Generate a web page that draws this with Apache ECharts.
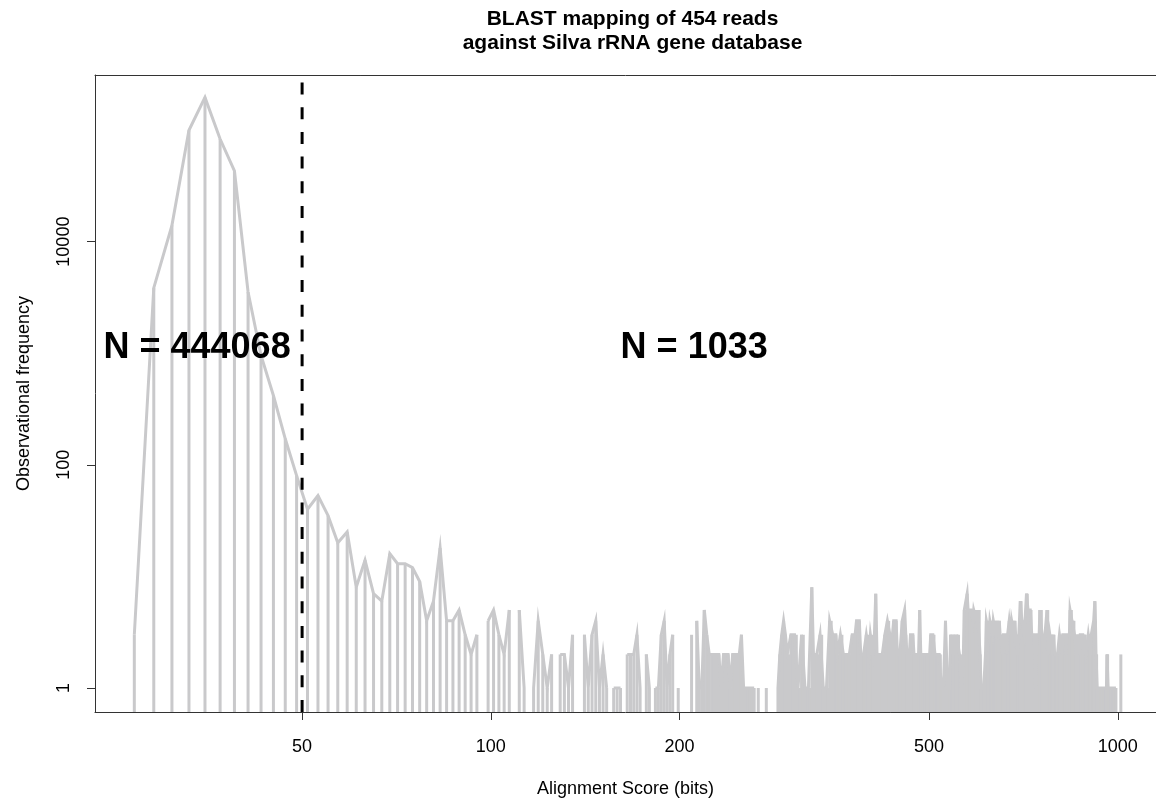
<!DOCTYPE html>
<html><head><meta charset="utf-8">
<script src="https://cdn.jsdelivr.net/npm/echarts@6/dist/echarts.min.js"></script>
<style>html,body{margin:0;padding:0;background:#fff}#chart{width:1156px;height:800px}</style>
</head><body><div id="chart"></div>
<script>
// Histogram bins (bin midpoints start at 27, width 2 bits)
const firstBinMid = 27;
const binWidth = 2;
// Counts per bin (0 = empty bin)
const counts27to49 = [3, 3850, 14000, 99500, 196000, 83000, 43000, 3540, 955, 418, 171, 80];
const counts51to99 = [40, 53, 35, 20, 25, 8, 14, 7, 6, 16, 13, 13, 12, 9, 4, 6, 18, 4, 4, 5, 3, 2, 3, 0, 4];
const counts101to199 = [5,3,2,5,0,5,1,0,1,4, 2,1,2,0,2,2,1,3,0,0, 3,1,3,4,1,2,1,0,1,1, 1,0,2,2,2,3,1,0,2,1, 0,1,1,3,4,1,2,3,0,1];
const counts201to299 = [0,0,0,0,3,0,4,1,1,5, 3,2,2,2,2,2,1,2,2,2, 1,2,2,2,2,3,1,1,1,1, 1,1,0,1,0,0,0,1,0,0, 0,0,0,1,2,3,4,3,2,2];
const counts301to399 = [3,3,3,3,1,1,3,3,1,1, 1,1,8,2,2,2,2,3,3,1, 1,1,1,4,4,3,3,3,2,2, 3,3,2,2,2,2,2,2,3,3, 3,4,4,4,2,2,2,2,3,3];
const counts401to499 = [2,3,3,2,3,7,2,2,2,2, 2,2,3,3,4,4,3,3,3,4, 4,4,2,2,2,2,4,4,5,3, 2,2,2,3,3,3,2,2,2,2, 2,5,2,2,2,2,2,2,2,2];
const counts501to599 = [2,3,3,3,3,2,2,2,2,2, 2,1,1,1,2,4,2,1,1,1, 3,3,2,3,3,2,3,3,3,2, 2,1,1,2,5,5,5,7,5,5, 5,5,5,4,5,5,5,4,5,5];
const counts601to699 = [5,2,1,1,1,1,1,2,4,4, 4,3,4,4,4,3,4,4,4,3, 4,4,3,4,3,3,3,2,3,3, 3,3,2,3,3,4,4,3,4,4, 4,3,4,3,3,3,2,3,3,6];
const counts701to799 = [6,4,4,4,3,4,4,7,7,5, 5,5,5,5,3,3,3,3,2,1, 1,3,3,3,3,5,5,5,3,3, 3,2,3,3,3,5,5,2,2,3, 3,3,3,2,3,3,2,2,2,2];
const counts801to899 = [2,2,2,3,3,3,3,2,3,3, 3,3,3,2,3,3,3,3,3,5, 5,5,4,4,4,4,3,3,3,2, 3,3,3,3,2,3,3,3,3,3, 2,3,3,3,2,2,2,2,3,3];
const counts901to999 = [3,3,2,3,3,3,3,4,4,6, 4,2,2,1,1,1,1,1,1,1, 1,1,1,1,1,1,1,1,1,1, 2,2,1,1,1,1,1,1,1,1, 1,1,1,1,1,1,1,0,0,0];
const counts1001to1011 = [0,0,0,0,0,2];

const cutoffScore = 50;
const xTickValues = [50, 100, 200, 500, 1000];
const yTickValues = [1, 100, 10000];
const annotationTexts = ['N = 444068', 'N = 1033'];
const annotationX = [34, 211];
const annotationY = [1120, 1120];
const titleText = 'BLAST mapping of 454 reads\nagainst Silva rRNA gene database';
const xAxisName = 'Alignment Score (bits)';
const yAxisName = 'Observational frequency';

const counts = [].concat(counts27to49, counts51to99, counts101to199, counts201to299,
  counts301to399, counts401to499, counts501to599, counts601to699, counts701to799,
  counts801to899, counts901to999, counts1001to1011);
const scores = counts.map((_, i) => firstBinMid + i * binWidth);

const X_MIN = 23.37, X_MAX = 1150.4;
const Y_MIN = 0.6096, Y_MAX = 311200;
const GREY = '#c9c9cb';
const AXIS = '#333';
const FONT = "'Liberation Sans', Arial, Helvetica, sans-serif";

const spikeData = [];
const lineData = [];
scores.forEach((s, i) => {
  const c = counts[i];
  if (c > 0) spikeData.push([s, c]);
  lineData.push([s, c > 0 ? c : null]);
});

const chart = echarts.init(document.getElementById('chart'), null, {renderer: 'canvas'});
chart.setOption({
  animation: false,
  backgroundColor: '#fff',
  title: {
    text: titleText, left: 627.5, top: 2, textAlign: 'center',
    textStyle: {fontFamily: FONT, fontSize: 21, fontWeight: 'bold', color: '#000', lineHeight: 24}
  },
  grid: {left: 95, top: 75, right: 0, height: 637, show: false, containLabel: false, outerBoundsMode: 'none'},
  xAxis: [{
    type: 'log', logBase: 10, min: X_MIN, max: X_MAX, position: 'bottom',
    name: xAxisName, nameLocation: 'middle', nameGap: 68,
    nameTextStyle: {fontFamily: FONT, fontSize: 18, color: '#000'},
    axisLine: {show: true, lineStyle: {color: AXIS, width: 1}},
    axisTick: {show: true, length: 8, lineStyle: {color: AXIS, width: 1}, customValues: xTickValues},
    axisLabel: {show: true, margin: 26, fontFamily: FONT, fontSize: 18, color: '#000', customValues: xTickValues, formatter: v => String(v)},
    splitLine: {show: false}, minorTick: {show: false}
  }, {
    type: 'log', logBase: 10, min: X_MIN, max: X_MAX, position: 'top',
    axisLine: {show: true, lineStyle: {color: AXIS, width: 1}},
    axisTick: {show: false}, axisLabel: {show: false}, splitLine: {show: false}
  }],
  yAxis: {
    type: 'log', logBase: 10, min: Y_MIN, max: Y_MAX,
    name: yAxisName, nameLocation: 'middle', nameGap: 62, nameRotate: 90,
    nameTextStyle: {fontFamily: FONT, fontSize: 18, color: '#000'},
    axisLine: {show: true, lineStyle: {color: AXIS, width: 1}},
    axisTick: {show: true, length: 8, lineStyle: {color: AXIS, width: 1}, customValues: yTickValues},
    axisLabel: {show: true, rotate: 90, margin: 22, fontFamily: FONT, fontSize: 18, color: '#000', customValues: yTickValues, formatter: v => String(v)},
    splitLine: {show: false}, minorTick: {show: false}
  },
  series: [
    {
      name: 'spikes', type: 'custom', clip: true, z: 2,
      data: spikeData,
      renderItem: function (params, api) {
        const x = api.value(0), y = api.value(1);
        const top = api.coord([x, y]);
        const bottom = api.coord([x, Y_MIN]);
        return {type: 'line', shape: {x1: top[0], y1: top[1], x2: bottom[0], y2: bottom[1]},
          style: {stroke: GREY, lineWidth: 3, lineCap: 'butt'}};
      }
    },
    {
      name: 'profile', type: 'line', data: lineData, z: 3,
      showSymbol: false, symbol: 'none', connectNulls: false, clip: true,
      lineStyle: {color: GREY, width: 3, join: 'miter', cap: 'butt'}
    },
    {
      name: 'cutoff', type: 'line', z: 5, showSymbol: false, symbol: 'none', clip: true,
      data: [[cutoffScore, Y_MIN], [cutoffScore, Y_MAX]],
      lineStyle: {color: '#000', width: 3, type: [12, 12.7], cap: 'butt'}
    },
    {
      name: 'annotations', type: 'scatter', z: 6, symbolSize: 0, silent: true,
      itemStyle: {opacity: 1},
      data: annotationTexts.map((t, i) => ({value: [annotationX[i], annotationY[i]], name: t})),
      label: {show: true, position: 'inside', formatter: p => p.name, opacity: 1,
        fontFamily: FONT, fontSize: 36, fontWeight: 'bold', color: '#000'}
    }
  ]
});
</script></body></html>
